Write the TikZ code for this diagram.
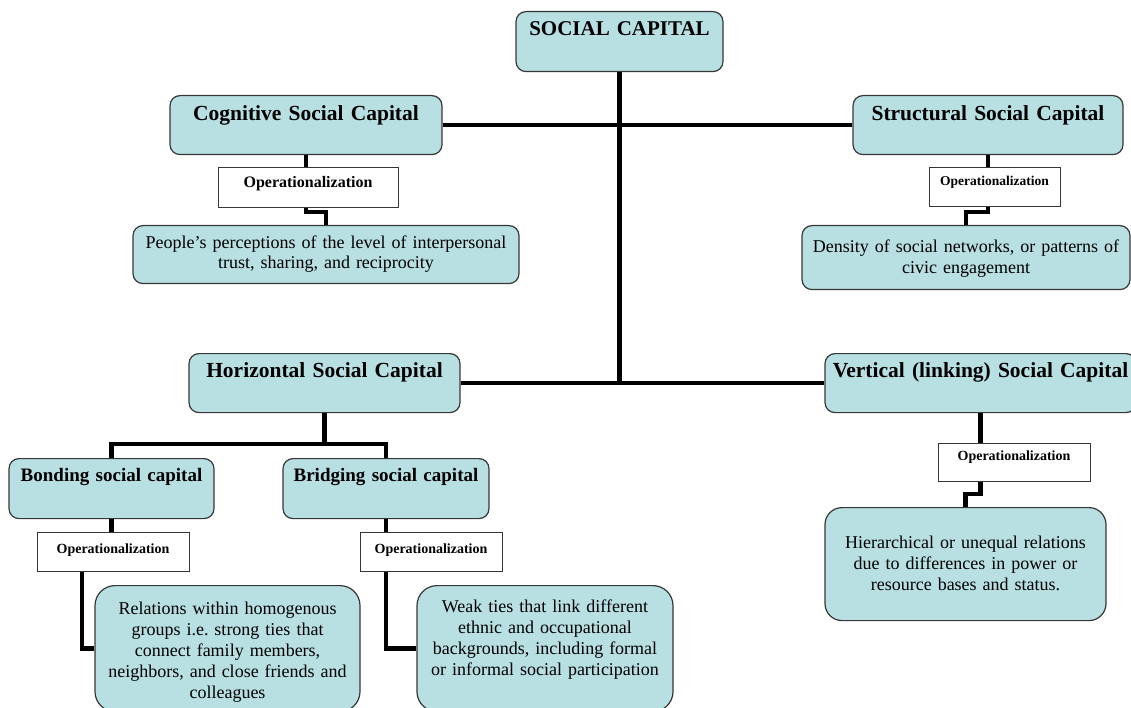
\documentclass[tikz,border=0pt]{standalone}
\usepackage{fontspec}
\setmainfont{Liberation Serif}
\definecolor{capfill}{RGB}{184,223,226}
\definecolor{capline}{RGB}{55,55,55}

\begin{document}
\begin{tikzpicture}[x=1pt, y=-1pt,
    capbox/.style={draw=capline, fill=capfill, line width=1.2pt, rounded corners=10pt,
        inner sep=0pt, anchor=north, align=center},
    opbox/.style={draw=capline, fill=white, line width=1pt, inner sep=0pt,
        anchor=north, align=center},
    boxsize/.style n args={3}{text width=#1pt, text height=#2pt, text depth=#3pt},
    title/.style={font=\fontsize{21.5}{25}\selectfont\bfseries},
    body/.style={font=\fontsize{18}{21}\selectfont},
    link/.style={line width=4.5pt}]

\useasboundingbox (0,0) rectangle (1131,708);

% the main box and the four kinds of capital
\node[capbox, boxsize={207}{24}{36}, font=\fontsize{21}{24}\selectfont\bfseries] (soc) at (619.5,11) {SOCIAL CAPITAL};
\node[capbox, boxsize={272}{25}{34}, title] (cog) at (306,95) {Cognitive Social Capital};
\node[capbox, boxsize={270}{25}{34}, title] (str) at (988,95) {Structural Social Capital};
\node[capbox, boxsize={271}{24}{35}, title] (hor) at (324.5,353) {Horizontal Social Capital};
\node[capbox, boxsize={311}{24}{35}, title] (ver) at (980.5,353) {Vertical (linking) Social Capital};

% the two sorts of horizontal capital
\node[capbox, boxsize={205}{23}{37}, font=\fontsize{19}{23}\selectfont\bfseries] (bon) at (111.5,458) {Bonding social capital};
\node[capbox, boxsize={206}{23}{37}, font=\fontsize{19}{23}\selectfont\bfseries] (bri) at (386,458) {Bridging social capital};

% the operationalization boxes
\foreach \nm/\cx/\ty/\w/\a/\d/\sz in {cogop/308/167/180/20/20/16, strop/994.5/167/131/18/21/13.5,
        verop/1014/443/152/17/21/14, bonop/113/532/152/21/18/14, briop/431/532/142/21/18/14} {
    \node[opbox, boxsize={\w}{\a}{\d}, font=\fontsize{\sz}{\sz}\selectfont\bfseries] (\nm) at (\cx,\ty) {Operationalization};
}

% and what each one means
\node[capbox, boxsize={386}{23}{35}, body, font=\fontsize{18}{20}\selectfont] (per) at (326,225)
    {People’s perceptions of the level of interpersonal\\trust, sharing, and reciprocity};
\node[capbox, boxsize={328}{27}{37}, body] (den) at (966,225)
    {Density of social networks, or patterns of\\civic engagement};
\node[capbox, boxsize={281}{41}{72}, body, rounded corners=17pt] (hie) at (965.5,507)
    {Hierarchical or unequal relations\\due to differences in power or\\resource bases and status.};
\node[capbox, boxsize={265}{29}{97}, body, rounded corners=20pt] (rel) at (227.5,585)
    {Relations within homogenous\\groups i.e.\ strong ties that\\connect family members,\\neighbors, and close friends and\\colleagues};
\node[capbox, boxsize={256}{27}{99}, body, rounded corners=20pt] (weak) at (545,585)
    {Weak ties that link different\\ethnic and occupational\\backgrounds, including formal\\or informal social participation};

% the trunk and the two cross lines
\draw[link] (soc.south) -- (soc.south |- hor.east);
\draw[link] (cog.east) -- (str.west);
\draw[link] (hor.east) -- (ver.west);

% cognitive and structural branches
\draw[link] (cog.south) -- (cog.south |- cogop.north);
\draw[link] (cog.south |- cogop.south) -- ++(0,4) -| (per.north);
\draw[link] (str.south) -- (str.south |- strop.north);
\draw[link] (str.south |- strop.south) -- ++(0,5) -| (den.north);

% horizontal branch
\draw[link] (hor.south) -- ++(0,31) coordinate (hsplit);
\draw[link] (bon.north) |- (hsplit) -| (bri.north);
\draw[link] (bon.south) -- (bon.south |- bonop.north);
\draw[link] ([xshift=-31pt]bonop.south) |- (rel.west);
\draw[link] (bri.south) -- (bri.south |- briop.north);
\draw[link] (bri.south |- briop.south) |- (weak.west);

% vertical branch
\draw[link] (ver.south) -- (ver.south |- verop.north);
\draw[link] (ver.south |- verop.south) -- ++(0,12) -| (hie.north);
\end{tikzpicture}
\end{document}
